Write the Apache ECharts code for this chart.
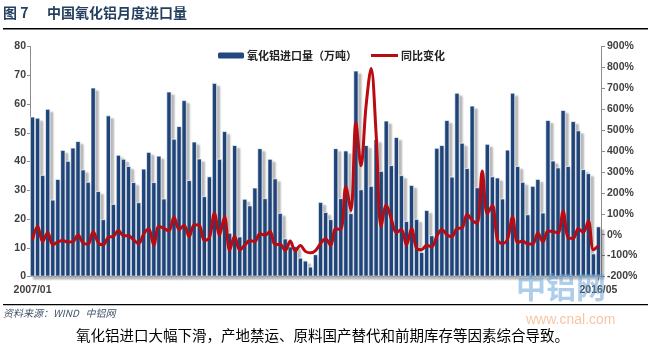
<!DOCTYPE html>
<html lang="zh">
<head>
    <meta charset="UTF-8">
    <title>中国氧化铝月度进口量</title>
    <script src="https://cdn.jsdelivr.net/npm/echarts@6/dist/echarts.min.js"></script>
    <style>
        html, body { margin: 0; padding: 0; background: #fff; }
        #chart { width: 650px; height: 352px; }
    </style>
</head>
<body>
    <div id="chart"></div>
    <script>
        // 月度进口量（万吨），2007/01 - 2016/05
        var imports = [
            55.6, 55.2, 35.3, 58.3, 26.7, 33.9, 44.0, 40.2, 44.8, 47.1, 37.2, 32.9,
            65.7, 29.7, 19.9, 56.0, 25.2, 42.3, 40.9, 38.4, 32.8, 25.8, 37.5, 43.3,
            32.8, 42.0, 27.1, 64.3, 47.9, 52.3, 61.3, 33.5, 46.9, 41.0, 27.9, 34.8,
            67.3, 40.9, 50.6, 15.2, 45.7, 13.9, 27.0, 24.7, 30.9, 44.6, 27.2, 40.9,
            34.1, 22.1, 13.2, 10.4, 10.5, 6.5, 5.5, 3.4, 7.7, 25.9, 22.4, 19.9,
            44.6, 27.2, 43.8, 22.0, 71.6, 30.3, 45.7, 31.5, 47.7, 36.7, 54.2, 38.7,
            48.5, 35.2, 19.3, 31.8, 20.0, 8.5, 23.1, 14.3, 44.7, 45.7, 54.4, 34.7,
            63.9, 46.5, 37.7, 59.4, 31.0, 35.0, 46.1, 34.8, 34.4, 27.1, 44.1, 63.9,
            38.4, 32.9, 21.6, 31.5, 33.9, 22.2, 54.4, 40.3, 37.9, 57.9, 38.4, 54.0,
            50.8, 37.3, 35.9, 8.0, 17.4
        ];
        // 同比变化（%）
        var yoy = [
            -25, 40, -33, 10, -48, -35, -28, -35, -33, -2, -40, -45,
            15, -38, -48, -12, -8, 20, -5, -5, -25, -43, 3, 28,
            -50, 40, 30, 18, 85, 25, 45, -10, 48, 45, -28, -15,
            102, -2, 86, -74, -8, -73, -50, -28, -33, 5, -3, 16,
            -48, -46, -76, -30, -78, -52, -80, -87, -76, -42, -20, -52,
            28, 25, 230, 115, 535, 330, 615, 795, 480, 38, 142, 75,
            10, 25, -50, 30, -65, -72, -50, -58, -8, 25, 0, -10,
            30, 32, 98, 70, 55, 305, 100, 140, -25, -42, -22, 85,
            -38, -30, -45, -45, 8, -35, 18, 15, 8, 112, -15, -18,
            28, 12, 65, -72, -52
        ];
        var leftTicks = { min: 0, max: 80, step: 10 };
        var rightTicks = { min: -200, max: 900, step: 100 };

        var months = [];
        for (var y = 2007; y <= 2016; y++) {
            for (var m = 1; m <= 12; m++) {
                if (months.length < imports.length) {
                    months.push(y + '/' + (m < 10 ? '0' + m : m));
                }
            }
        }
        var last = months.length - 1;

        var axisFont = { fontFamily: 'Liberation Sans', fontWeight: 'bold', fontSize: 10.5, color: '#404040' };

        var myChart = echarts.init(document.getElementById('chart'));
        var option = {
            animation: false,
            grid: { left: 30, right: 49, top: 46.5, bottom: 75.5 },
            legend: [{
                data: ['氧化铝进口量（万吨）'],
                left: 213, top: 45,
                itemWidth: 26, itemHeight: 6, itemGap: 0,
                itemStyle: { borderWidth: 0, shadowBlur: 0, shadowOffsetX: 0, shadowOffsetY: 0 },
                textStyle: { fontFamily: 'Noto Sans CJK SC', fontWeight: 'bold', fontSize: 11, color: '#222', padding: [0, 0, 0, -2] }
            }, {
                data: ['同比变化'],
                left: 366, top: 45,
                icon: 'rect', itemWidth: 27, itemHeight: 3,
                textStyle: { fontFamily: 'Noto Sans CJK SC', fontWeight: 'bold', fontSize: 11, color: '#222', padding: [0, 0, 0, -2] }
            }],
            xAxis: {
                type: 'category',
                data: months,
                axisLine: { lineStyle: { color: '#8c8c8c', width: 1 } },
                axisTick: {
                    show: true, alignWithLabel: true, length: 4,
                    interval: function (i) { return i === last; },
                    lineStyle: { color: '#8c8c8c' }
                },
                axisLabel: Object.assign({
                    interval: function (i) { return i === 0 || i === last; },
                    margin: 8
                }, axisFont)
            },
            yAxis: [{
                type: 'value',
                min: leftTicks.min, max: leftTicks.max, interval: leftTicks.step,
                splitLine: { show: false },
                axisLine: { show: true, lineStyle: { color: '#8c8c8c' } },
                axisTick: { show: true, length: 3, lineStyle: { color: '#8c8c8c' } },
                axisLabel: Object.assign({ margin: 4 }, axisFont)
            }, {
                type: 'value',
                min: rightTicks.min, max: rightTicks.max, interval: rightTicks.step,
                splitLine: { show: false },
                axisLine: { show: true, lineStyle: { color: '#8c8c8c' } },
                axisTick: { show: true, length: 4, lineStyle: { color: '#8c8c8c' } },
                axisLabel: Object.assign({ margin: 6, formatter: '{value}%' }, axisFont)
            }],
            series: [{
                name: '氧化铝进口量（万吨）',
                type: 'bar',
                data: imports,
                barCategoryGap: '0%',
                itemStyle: {
                    color: '#21487F',
                    borderColor: '#ffffff',
                    borderWidth: 0.7,
                    shadowColor: 'rgba(0,0,0,0.28)',
                    shadowBlur: 2,
                    shadowOffsetX: 3,
                    shadowOffsetY: 3
                }
            }, {
                name: '同比变化',
                type: 'line',
                yAxisIndex: 1,
                data: yoy,
                smooth: 0.35,
                symbol: 'none',
                color: '#BA0A12',
                lineStyle: { color: '#BA0A12', width: 3 }
            }],
            graphic: [
                { type: 'text', left: 3, top: 6, style: { text: '图 7', font: 'bold 14px "Noto Sans CJK SC"', fill: '#243F60' } },
                { type: 'text', left: 47, top: 6, style: { text: '中国氧化铝月度进口量', font: 'bold 14px "Noto Sans CJK SC"', fill: '#243F60' } },
                { type: 'rect', shape: { x: 3, y: 28, width: 645, height: 1.5 }, style: { fill: '#000' } },
                { type: 'text', left: 516, top: 272, z: 100, style: { text: '中铝网', font: 'bold 30px "Noto Sans CJK SC"', fill: 'rgba(91,155,213,0.5)' } },
                { type: 'rect', shape: { x: 3, y: 304, width: 645, height: 1.2 }, style: { fill: '#000' } },
                { type: 'text', left: 3, top: 308, style: { text: '资料来源：WIND   中铝网', font: 'italic 10px "Noto Sans CJK SC"', fill: '#44546A' } },
                { type: 'text', left: 526, top: 313, style: { text: 'www.cnal.com', font: '14px "Liberation Sans"', fill: 'rgba(237,125,49,0.45)' } },
                { type: 'text', left: 76, top: 328, style: { text: '氧化铝进口大幅下滑，产地禁运、原料国产替代和前期库存等因素综合导致。', font: '14.5px "Noto Sans CJK SC"', fill: '#000' } }
            ]
        };
        myChart.setOption(option);
    </script>
</body>
</html>
